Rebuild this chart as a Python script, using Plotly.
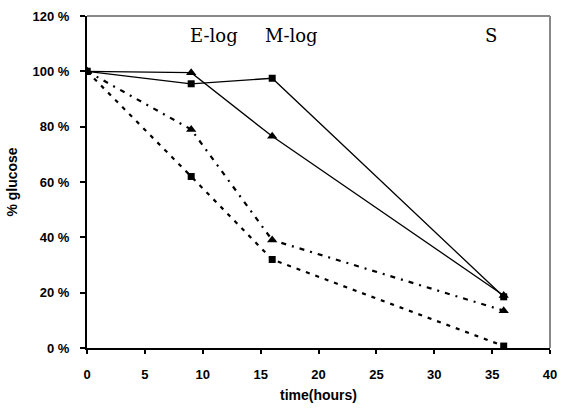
import plotly.graph_objects as go

time_h = [0, 9, 16, 36]
solid_sq = [100, 95.5, 97.5, 18.5]
solid_tri = [100, 99.5, 76.5, 19]
dash_tri = [100, 79, 39, 13.5]
dash_sq = [100, 62, 32, 0.7]

y_ticks = [0, 20, 40, 60, 80, 100, 120]
y_text = [f"{v} %" for v in y_ticks]
x_ticks = [0, 5, 10, 15, 20, 25, 30, 35, 40]

phases = ["E-log", "M-log", "S"]
phase_x = [11.0, 17.7, 34.9]

fig = go.Figure()
fig.add_trace(go.Scatter(x=time_h, y=solid_sq, mode="lines+markers",
                         line=dict(color="black", width=1.3),
                         marker=dict(symbol="square", size=7, color="black")))
fig.add_trace(go.Scatter(x=time_h, y=solid_tri, mode="lines+markers",
                         line=dict(color="black", width=1.3),
                         marker=dict(symbol="triangle-up", size=9, color="black")))
fig.add_trace(go.Scatter(x=time_h, y=dash_tri, mode="lines+markers",
                         line=dict(color="black", width=2.2, dash="5px,6px,2px,6px"),
                         marker=dict(symbol="triangle-up", size=9, color="black")))
fig.add_trace(go.Scatter(x=time_h, y=dash_sq, mode="lines+markers",
                         line=dict(color="black", width=2.2, dash="4px,6px"),
                         marker=dict(symbol="square", size=7, color="black")))

for t, xp in zip(phases, phase_x):
    fig.add_annotation(x=xp, y=113, text=t, showarrow=False,
                       font=dict(family="DejaVu Serif", size=18, color="black"))

fig.update_layout(
    width=565, height=411,
    margin=dict(l=87, r=8, t=16, b=63),
    paper_bgcolor="white", plot_bgcolor="white",
    showlegend=False,
    font=dict(family="Liberation Sans", color="black"),
    shapes=[
        dict(type="line", xref="paper", yref="paper", x0=0, x1=1, y0=1, y1=1,
             line=dict(color="#888888", width=2)),
        dict(type="line", xref="paper", yref="paper", x0=1, x1=1, y0=0, y1=1,
             line=dict(color="#888888", width=2)),
    ],
)
fig.update_xaxes(range=[0, 40], tickvals=x_ticks, showgrid=False, zeroline=False,
                 showline=True, linecolor="black", linewidth=2,
                 ticks="outside", ticklen=4, tickwidth=1.5, tickcolor="black",
                 ticklabelstandoff=9, ticklabeloverflow="allow",
                 tickfont=dict(size=13, family="Liberation Sans", weight="bold"),
                 title=dict(text="<b>time(hours)</b>", font=dict(size=14), standoff=10))
fig.update_yaxes(range=[0, 120], tickvals=y_ticks, ticktext=y_text, showgrid=False,
                 zeroline=False, showline=True, linecolor="black", linewidth=2,
                 ticks="outside", ticklen=5, tickwidth=1.5, tickcolor="black",
                 ticklabelstandoff=8, ticklabeloverflow="allow",
                 tickfont=dict(size=13, family="Liberation Sans", weight="bold"),
                 title=dict(text="<b>% glucose</b>", font=dict(size=14), standoff=12))

fig.write_html("out.html", config={"displayModeBar": False},
               post_script="document.body.style.margin='0';document.body.style.overflow='hidden';")
